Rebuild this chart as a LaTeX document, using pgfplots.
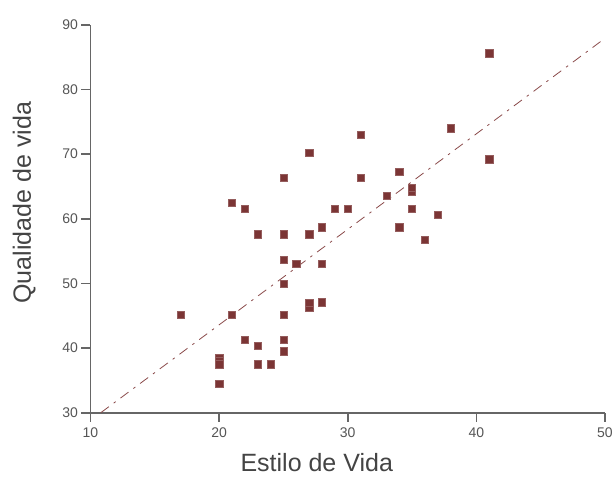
\documentclass[border=0pt]{standalone}
\usepackage{fontspec}
\setmainfont{Liberation Sans}
\usepackage{pgfplots}
\pgfplotsset{compat=1.18}
\definecolor{mk}{HTML}{7B3535}
\definecolor{ln}{HTML}{8A4A4A}
\definecolor{ax}{HTML}{666666}
\definecolor{tk}{HTML}{555555}
\definecolor{lb}{HTML}{444444}
\begin{document}
\begin{tikzpicture}
\begin{axis}[
  scale only axis,
  width=514.5pt, height=388pt,
  xmin=10, xmax=50, ymin=30, ymax=90,
  axis x line*=bottom, axis y line*=left,
  axis line style={ax, line width=1.6pt, -},
  xtick={10,20,30,40,50}, ytick={30,40,50,60,70,80,90},
  tick align=outside,
  major tick length=9pt,
  tick style={ax, line width=1.6pt},
  every tick label/.append style={font=\fontsize{14}{16}\selectfont, text=tk},
  /pgf/number format/assume math mode=true,
  xticklabel style={yshift=-2pt},
  xlabel={Estilo de Vida}, ylabel={Qualidade de vida},
  label style={font=\fontsize{25}{28}\selectfont, text=lb},
  xlabel style={yshift=-12pt, xshift=-31pt, inner sep=1pt},
  ylabel style={yshift=20pt, xshift=16pt},
  clip=false,
]
\addplot[ln, line width=0.8pt, dash pattern=on 10pt off 6pt on 2.5pt off 6pt] coordinates {(10.8,30) (50,87.9)};
\addplot[only marks, mark=square*, mark size=3.6pt, mark options={fill=mk, draw=mk!80!white, line width=0.4pt}] coordinates {
(41,85.6) (38,74) (31,73) (27,70.2) (41,69.2) (34,67.3) (25,66.4) (31,66.4)
(35,64.2) (35,64.8) (33,63.5) (21,62.5) (22,61.6) (29,61.5) (30,61.5) (35,61.5)
(37,60.6) (28,58.7) (34,58.7) (23,57.6) (25,57.6) (27,57.6) (36,56.7)
(25,53.7) (26,53) (28,53) (25,50) (27,46.2) (27,47.0) (28,47.1)
(17,45.2) (21,45.2) (25,45.2) (22,41.3) (25,41.3) (23,40.4) (25,39.5)
(20,38.5) (20,38.0) (20,37.5) (23,37.5) (24,37.5) (20,34.5)
};
\end{axis}
\pgfresetboundingbox
\path (current axis.south west) ++(-90.5pt,-67.3pt) rectangle ++(614pt,480pt);
\end{tikzpicture}
\end{document}
